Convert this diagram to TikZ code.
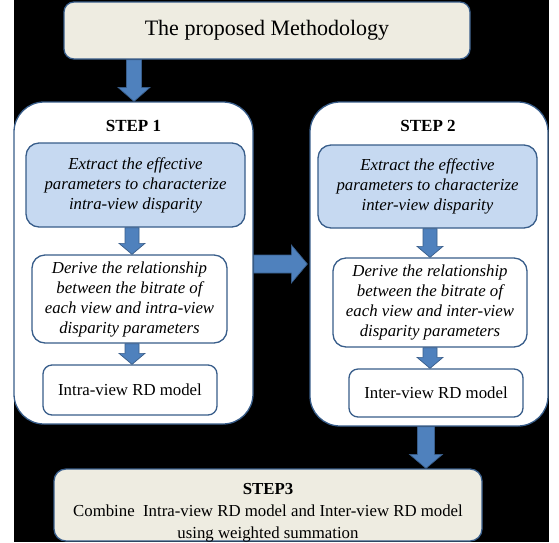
\documentclass[tikz,border=0pt]{standalone}
\usepackage{fontspec}
\setmainfont{Liberation Serif}
\usetikzlibrary{calc}
\definecolor{edgec}{HTML}{385D8A}
\definecolor{bluef}{HTML}{C6D9F1}
\definecolor{arrowf}{HTML}{4F81BD}
\definecolor{beigef}{HTML}{EEECE1}
\tikzset{
  basebox/.style={draw=edgec, line width=1.3pt, inner sep=0pt, align=center,
    font=\fontsize{16.8}{20}\selectfont},
  titlebox/.style={basebox, fill=beigef, rounded corners=10pt},
  stepbox/.style={basebox, fill=white, rounded corners=30pt},
  extractbox/.style={basebox, fill=bluef, rounded corners=13pt, font=\fontsize{16.8}{20}\selectfont\itshape},
  derivebox/.style={basebox, fill=white, rounded corners=13pt, font=\fontsize{16.8}{20}\selectfont\itshape},
  modelbox/.style={basebox, fill=white, rounded corners=9pt},
  steplabel/.style={font=\fontsize{17}{20}\selectfont\bfseries, inner sep=0pt},
  plaintext/.style={font=\fontsize{16.8}{22}\selectfont, align=center, inner sep=0pt},
  barrow/.style={fill=arrowf, draw=edgec, line width=0.7pt},
}
\newcommand\blockarrowv[5]{%
  \filldraw[barrow] ($(#1)+(-#3,0)$) -- ($(#2)+(-#3,-#5)$) -- ($(#2)+(-#4,-#5)$) -- (#2)
    -- ($(#2)+(#4,-#5)$) -- ($(#2)+(#3,-#5)$) -- ($(#1)+(#3,0)$) -- cycle;}
\newcommand\blockarrowh[5]{%
  \filldraw[barrow] ($(#1)+(0,-#3)$) -- ($(#2)+(-#5,-#3)$) -- ($(#2)+(-#5,-#4)$) -- (#2)
    -- ($(#2)+(-#5,#4)$) -- ($(#2)+(-#5,#3)$) -- ($(#1)+(0,#3)$) -- cycle;}
\begin{document}
\begin{tikzpicture}[x=1pt,y=-1pt]
  \useasboundingbox (0,0) rectangle (559,542);
  \fill[white] (0,0) rectangle (559,542);
  \fill[black] (14,0) rectangle (549,542);

  % top box
  \node[titlebox, minimum width=406pt, minimum height=57pt,
        font=\fontsize{22}{26}\selectfont] (top) at (267,30.5) {The proposed Methodology};

  % step 1
  \node[stepbox, minimum width=239pt, minimum height=322pt] (s1) at (133.5,263) {};
  \node[steplabel] (s1l) at (133.5,126) {STEP 1};
  \node[extractbox, minimum width=219pt, minimum height=84pt] (b1) at (135.5,185)
    {Extract the effective\\parameters to characterize\\intra-view disparity};
  \node[derivebox, minimum width=195pt, minimum height=88pt] (d1) at (129.5,299)
    {Derive the relationship\\between the bitrate of\\each view and intra-view\\disparity parameters};
  \node[modelbox, minimum width=174pt, minimum height=50pt] (r1) at (130,390) {Intra-view RD model};

  % step 2
  \node[stepbox, minimum width=238pt, minimum height=324pt] (s2) at (429,264) {};
  \node[steplabel] (s2l) at (428,126) {STEP 2};
  \node[extractbox, minimum width=219pt, minimum height=83pt] (b2) at (427.5,186.5)
    {Extract the effective\\parameters to characterize\\inter-view disparity};
  \node[derivebox, minimum width=194pt, minimum height=89pt] (d2) at (430,302.5)
    {Derive the relationship\\between the bitrate of\\each view and inter-view\\disparity parameters};
  \node[modelbox, minimum width=174pt, minimum height=48pt] (r2) at (436,393) {Inter-view RD model};

  % step 3
  \node[titlebox, rounded corners=12pt, minimum width=428pt, minimum height=72pt] (s3) at (268,505) {};
  \node[plaintext] (s3t) at (268,513)
    {\textbf{STEP3}\\Combine\ \ Intra-view RD model and Inter-view RD model\\using weighted summation};

  % arrows
  \coordinate (x134) at (134,0);
  \coordinate (x132) at (132,0);
  \coordinate (x430) at (430,0);
  \coordinate (x426) at (426,0);
  \coordinate (a1s) at (x134 |- top.south);
  \coordinate (a1t) at (x134 |- s1.north);
  \blockarrowv{a1s}{a1t}{7.5}{16}{14}
  \coordinate (a2s) at (x132 |- b1.south);
  \coordinate (a2t) at (x132 |- d1.north);
  \blockarrowv{a2s}{a2t}{7}{13}{11}
  \coordinate (a3s) at (x132 |- d1.south);
  \coordinate (a3t) at (x132 |- r1.north);
  \blockarrowv{a3s}{a3t}{7}{13}{11}
  \coordinate (a4s) at (x430 |- b2.south);
  \coordinate (a4t) at (x430 |- d2.north);
  \blockarrowv{a4s}{a4t}{7}{13}{11}
  \coordinate (a5s) at (x430 |- d2.south);
  \coordinate (a5t) at (x430 |- r2.north);
  \blockarrowv{a5s}{a5t}{7}{13}{11}
  \coordinate (a6s) at (x426 |- s2.south);
  \coordinate (a6t) at (x426 |- s3.north);
  \blockarrowv{a6s}{a6t}{8.5}{16.5}{14}
  \coordinate (a7s) at ([yshift=-1pt]s1.east);
  \coordinate (a7t) at ([xshift=-2pt]s2.west |- a7s);
  \blockarrowh{a7s}{a7t}{9}{19}{16}
\end{tikzpicture}
\end{document}
